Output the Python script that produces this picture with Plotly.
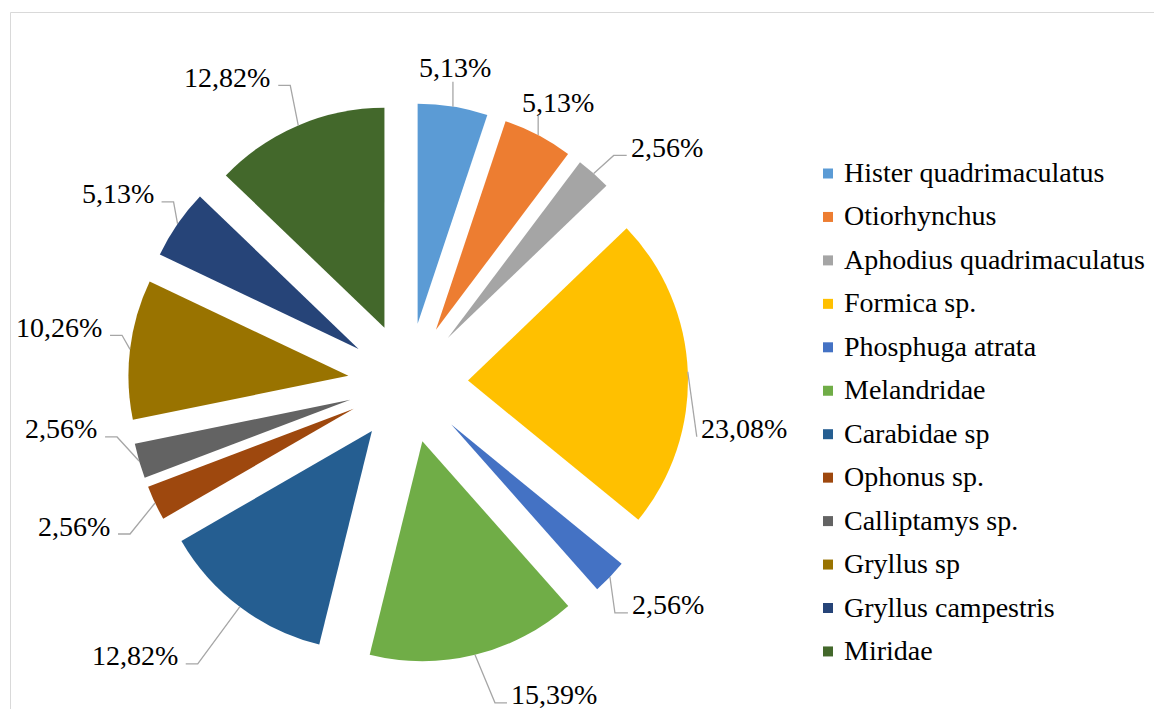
import math
import plotly.graph_objects as go

W, H = 1154, 709

# ---- data ----
species = [
    "Hister quadrimaculatus", "Otiorhynchus", "Aphodius quadrimaculatus",
    "Formica sp.", "Phosphuga atrata", "Melandridae", "Carabidae sp",
    "Ophonus sp.", "Calliptamys sp.", "Gryllus sp", "Gryllus campestris",
    "Miridae",
]
shares = [5.13, 5.13, 2.56, 23.08, 2.56, 15.39, 12.82, 2.56, 2.56, 10.26, 5.13, 12.82]

# ---- style ----
colors = [
    "#5B9BD5", "#ED7D31", "#A5A5A5", "#FFC000", "#4472C4", "#70AD47",
    "#255E91", "#9E480E", "#636363", "#997300", "#264478", "#43682B",
]
FONT = "Liberation Serif"
FSIZE = 28
LEADER = "#A6A6A6"

# pie geometry in page pixels (centre, radius incl. explosion, explosion fraction)
CX, CY = 408, 383
R_OUT = 280
PULL = 0.273

# data-label placement relative to each slice's outer mid-point:
# (side, dx to text edge, dy to text centre, knee length)
label_layout = [
    ("top", 2, -39, 0),
    ("top", 20, -33, 0),
    ("right", 35, -26, 13),
    ("right", 11, 57, 0),
    ("right", 20, 28, 13),
    ("right", 34, 40, 12),
    ("left", -60, 49, 12),
    ("left", -43, 23, 12),
    ("left", -40, -32, 12),
    ("left", -26, -22, 12),
    ("left", -22, -30, 12),
    ("left", -26, -48, 12),
]

# legend block
LEG_SQ_X, LEG_SQ = 823, 10
LEG_TX = 842
LEG_Y0, LEG_STEP = 173.5, 43.45


def px(x):
    return x / W


def py(y):
    return 1 - y / H


fig = go.Figure(
    go.Pie(
        labels=species,
        values=shares,
        sort=False,
        direction="clockwise",
        rotation=0,
        pull=[PULL] * len(shares),
        marker=dict(colors=colors, line=dict(width=0)),
        textinfo="none",
        hoverinfo="label+value",
        showlegend=False,
        domain=dict(
            x=[px(CX - R_OUT), px(CX + R_OUT)],
            y=[py(CY + R_OUT), py(CY - R_OUT)],
        ),
    )
)

shapes = []
annotations = []

# chart frame
shapes.append(dict(
    type="rect", xref="paper", yref="paper",
    x0=px(10.5), x1=px(W + 5), y0=py(12.5), y1=py(H + 5),
    line=dict(color="#D9D9D9", width=1), fillcolor="rgba(0,0,0,0)",
))

# data labels with leader lines
total = sum(shares)
cum = 0.0
for v, (side, dx, dy, knee) in zip(shares, label_layout):
    theta = 2 * math.pi * (cum + v / 2) / total
    cum += v
    ax = CX + R_OUT * math.sin(theta)
    ay = CY - R_OUT * math.cos(theta)
    tx, ty = ax + dx, ay + dy
    text = f"{v:.2f}".replace(".", ",") + "%"

    if side == "top":
        pts = [(ax, ay), (ax, ty + 14)]
        xanchor = "center"
    elif side == "left":
        ex, ey = tx + 6, ty + 8
        pts = [(ax, ay), (ex + knee, ey), (ex, ey)]
        xanchor = "right"
    else:
        ex, ey = tx - 2, ty + 8
        pts = [(ax, ay), (ex - knee, ey), (ex, ey)]
        xanchor = "left"

    path = "M " + " L ".join(f"{px(x):.5f},{py(y):.5f}" for x, y in pts)
    shapes.append(dict(
        type="path", xref="paper", yref="paper", path=path,
        line=dict(color=LEADER, width=1.3),
    ))
    annotations.append(dict(
        x=px(tx), y=py(ty), xref="paper", yref="paper",
        text=text, showarrow=False, xanchor=xanchor, yanchor="middle",
        font=dict(family=FONT, size=FSIZE, color="#000000"),
    ))

# legend
for i, (name, col) in enumerate(zip(species, colors)):
    yc = LEG_Y0 + i * LEG_STEP
    shapes.append(dict(
        type="rect", xref="paper", yref="paper",
        x0=px(LEG_SQ_X), x1=px(LEG_SQ_X + LEG_SQ),
        y0=py(yc + LEG_SQ / 2), y1=py(yc - LEG_SQ / 2),
        line=dict(width=0), fillcolor=col,
    ))
    annotations.append(dict(
        x=px(LEG_TX), y=py(yc - 1), xref="paper", yref="paper",
        text=name, showarrow=False, xanchor="left", yanchor="middle",
        font=dict(family=FONT, size=FSIZE, color="#000000"),
    ))

fig.update_layout(
    width=W, height=H, autosize=False,
    margin=dict(l=0, r=0, t=0, b=0),
    paper_bgcolor="white", plot_bgcolor="white",
    font=dict(family=FONT),
    shapes=shapes, annotations=annotations,
)

fig.write_html("out.html")
